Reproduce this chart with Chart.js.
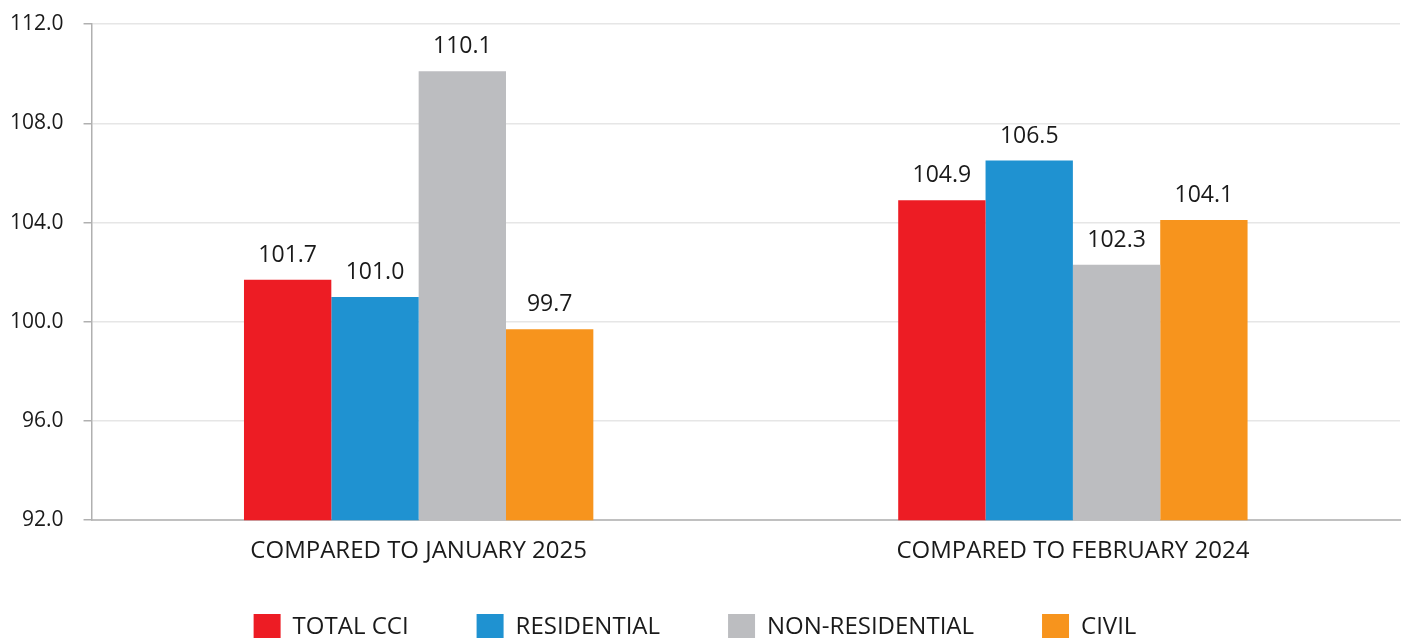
<!DOCTYPE html>
<html>
<head>
<meta charset="utf-8">
<script src="https://cdn.jsdelivr.net/npm/chart.js@4"></script>
<style>
  html, body { margin: 0; padding: 0; background: #fff; overflow: hidden; }
  #wrap { width: 1407px; height: 688px; position: relative; }
</style>
</head>
<body>
<div id="wrap"><canvas id="cciChart"></canvas></div>
<script>
// chart data
var categories = ['COMPARED TO JANUARY 2025', 'COMPARED TO FEBRUARY 2024'];
var totalCci = [101.7, 104.9];
var residential = [101.0, 106.5];
var nonResidential = [110.1, 102.3];
var civil = [99.7, 104.1];
var yTicks = [92, 96, 100, 104, 108, 112];

var FONT = "'Open Sans', 'Noto Sans', sans-serif";
var LEGEND_SHIFT = 37; // pull legend closer to the axis labels

// draws the value above each bar
var valueLabels = {
    id: 'valueLabels',
    afterDatasetsDraw: function(chart) {
        var ctx = chart.ctx;
        ctx.save();
        ctx.font = '23px ' + FONT;
        ctx.fillStyle = '#1a1a1a';
        ctx.textAlign = 'center';
        ctx.textBaseline = 'bottom';
        chart.data.datasets.forEach(function(ds, i) {
            chart.getDatasetMeta(i).data.forEach(function(bar, j) {
                ctx.fillText(ds.data[j].toFixed(1), bar.x, bar.y - 13);
            });
        });
        ctx.restore();
    }
};

// legend padding is big for the horizontal gaps, so move it back up
var legendNudge = {
    id: 'legendNudge',
    afterLayout: function(chart) {
        if (chart.legend) {
            chart.legend.top -= LEGEND_SHIFT;
            chart.legend.bottom -= LEGEND_SHIFT;
        }
    }
};

var ctx = document.getElementById('cciChart').getContext('2d');
var myChart = new Chart(ctx, {
    type: 'bar',
    data: {
        labels: categories,
        datasets: [
            { label: 'TOTAL CCI', data: totalCci, backgroundColor: '#ED1C24' },
            { label: 'RESIDENTIAL', data: residential, backgroundColor: '#1F92D1' },
            { label: 'NON-RESIDENTIAL', data: nonResidential, backgroundColor: '#BCBDC0' },
            { label: 'CIVIL', data: civil, backgroundColor: '#F7941D' }
        ]
    },
    options: {
        responsive: true,
        maintainAspectRatio: false,
        animation: false,
        datasets: {
            bar: { categoryPercentage: 0.534, barPercentage: 1.0, borderWidth: 0 }
        },
        layout: { padding: { top: 0, right: 7, left: -10, bottom: 0 } },
        plugins: {
            tooltip: { enabled: false },
            legend: {
                position: 'bottom',
                labels: {
                    font: { family: FONT, size: 24 },
                    color: '#1a1a1a',
                    boxWidth: 27,
                    boxHeight: 27,
                    padding: 68
                }
            }
        },
        scales: {
            x: {
                grid: { display: false, drawTicks: false },
                border: { color: '#c0c0c0', width: 2 },
                ticks: {
                    font: { family: FONT, size: 24 },
                    color: '#1a1a1a',
                    padding: 17
                }
            },
            y: {
                min: yTicks[0],
                max: yTicks[yTicks.length - 1],
                afterBuildTicks: function(axis) {
                    axis.ticks = yTicks.map(function(v) { return { value: v }; });
                },
                grid: { color: '#e6e6e6', lineWidth: 1.5, tickLength: 8, tickColor: '#b0b0b0' },
                border: { color: '#b0b0b0', width: 1.5 },
                ticks: {
                    // small lineHeight keeps the top label from pushing the plot down
                    font: { family: FONT, size: 21, lineHeight: 0.4 },
                    color: '#1a1a1a',
                    padding: 20,
                    callback: function(v) { return Number(v).toFixed(1); }
                }
            }
        }
    },
    plugins: [valueLabels, legendNudge]
});
</script>
</body>
</html>
